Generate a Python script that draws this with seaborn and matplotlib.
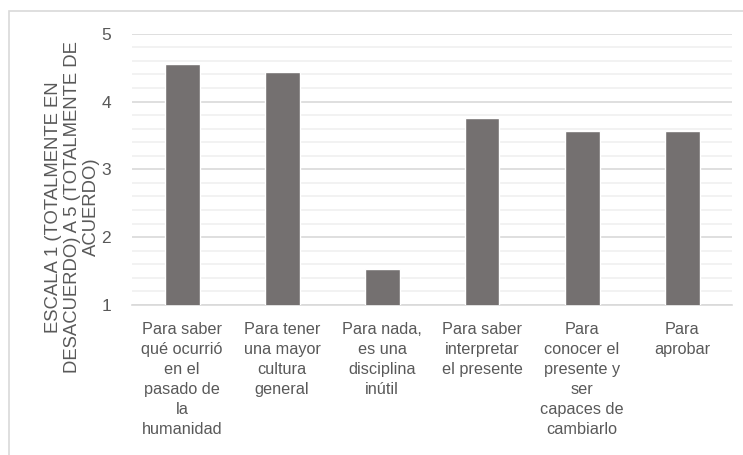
import matplotlib
matplotlib.use("Agg")
import matplotlib.pyplot as plt
import matplotlib.patches as mpatches
from matplotlib.ticker import MultipleLocator
import pandas as pd
import seaborn as sns

# Data
categories = [
    "Para saber\nqué ocurrió\nen el\npasado de\nla\nhumanidad",
    "Para tener\nuna mayor\ncultura\ngeneral",
    "Para nada,\nes una\ndisciplina\ninútil",
    "Para saber\ninterpretar\nel presente",
    "Para\nconocer el\npresente y\nser\ncapaces de\ncambiarlo",
    "Para\naprobar",
]
scores = [4.56, 4.43, 1.53, 3.75, 3.57, 3.57]
y_label = "ESCALA 1 (TOTALMENTE EN\nDESACUERDO) A 5 (TOTALMENTE DE\nACUERDO)"

TEXT = "#595959"
BAR = "#747070"

sns.set_style("white")
plt.rcParams["font.family"] = ["Liberation Sans", "DejaVu Sans"]

df = pd.DataFrame({"categoria": categories, "puntuacion": scores})

fig = plt.figure(figsize=(7.43, 4.55), dpi=100)
ax = fig.add_axes([132 / 743, 1 - 305 / 455, 600 / 743, (305 - 33.7) / 455])

sns.barplot(data=df, x="categoria", y="puntuacion", color=BAR, width=0.35,
            saturation=1, ax=ax, zorder=3)

ax.set_ylim(1, 5)
ax.yaxis.set_major_locator(MultipleLocator(1))
ax.yaxis.set_minor_locator(MultipleLocator(0.2))
ax.grid(which="major", axis="y", color="#d9d9d9", linewidth=1.2, zorder=0)
ax.grid(which="minor", axis="y", color="#f0f0f0", linewidth=1.2, zorder=0)
ax.set_axisbelow(True)
for side in ["top", "right", "left"]:
    ax.spines[side].set_visible(False)
ax.spines["bottom"].set_color("#d9d9d9")
ax.spines["bottom"].set_linewidth(1.2)

ax.tick_params(axis="both", which="both", length=0, colors=TEXT)
ax.tick_params(axis="y", pad=15, labelsize=12.5)
ax.tick_params(axis="x", pad=12, labelsize=11.7)
for lab in ax.get_xticklabels():
    lab.set_linespacing(1.43)
    lab.set_horizontalalignment("center")

ax.set_xlabel("")
ax.set_ylabel(y_label, color=TEXT, fontsize=13.3, linespacing=1.15)
ax.yaxis.set_label_coords(-32 / 600, (305 - 207) / (305 - 33.7))

# light chart border like the spreadsheet frame
fig.patches.append(mpatches.Rectangle(
    (9 / 743, -0.1), 2, 1 - 11 / 455 + 0.1, transform=fig.transFigure,
    fill=False, edgecolor="#d9d9d9", linewidth=1.2))

fig.savefig("out.png", dpi=100)
